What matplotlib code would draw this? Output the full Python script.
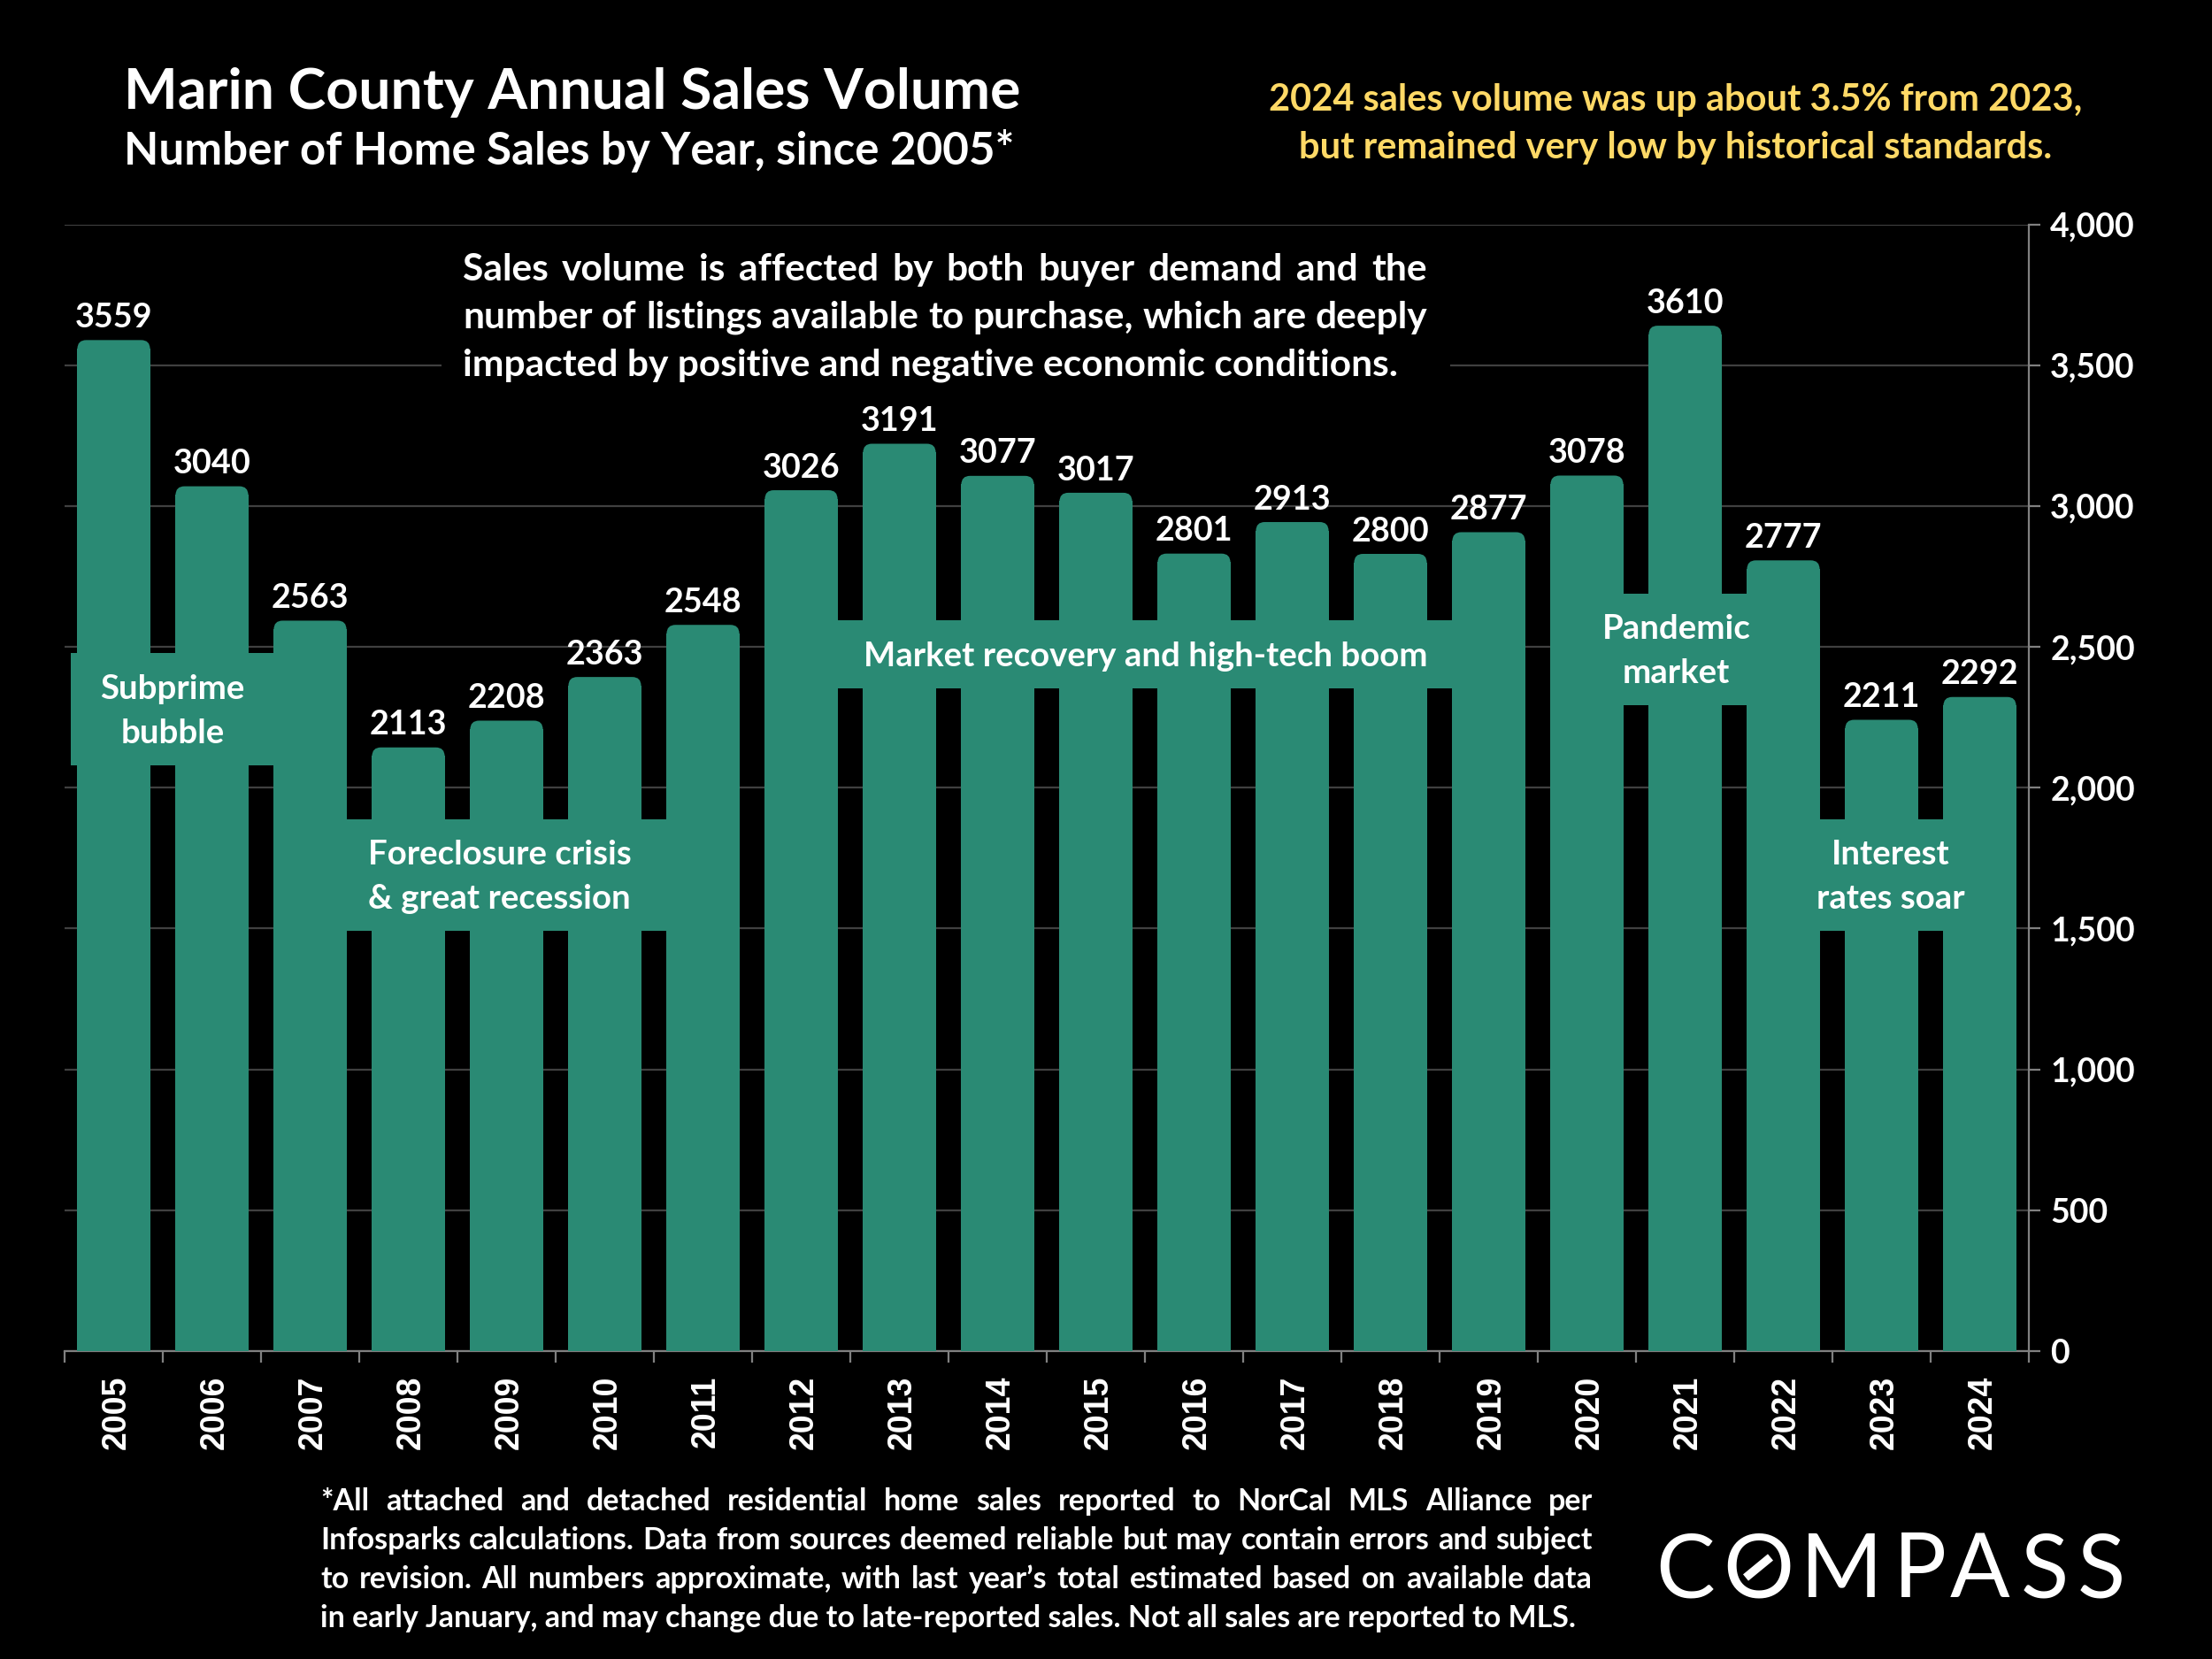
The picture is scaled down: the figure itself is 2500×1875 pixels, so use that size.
import matplotlib
matplotlib.use("Agg")
import matplotlib.pyplot as plt
from matplotlib.patches import FancyBboxPatch, Rectangle
from matplotlib.lines import Line2D
from matplotlib.transforms import ScaledTranslation

years = [2005, 2006, 2007, 2008, 2009, 2010, 2011, 2012, 2013, 2014,
         2015, 2016, 2017, 2018, 2019, 2020, 2021, 2022, 2023, 2024]
sales = [3559, 3040, 2563, 2113, 2208, 2363, 2548, 3026, 3191, 3077,
         3017, 2801, 2913, 2800, 2877, 3078, 3610, 2777, 2211, 2292]
y_ticks = [0, 500, 1000, 1500, 2000, 2500, 3000, 3500, 4000]

band_labels = ["Subprime\nbubble", "Foreclosure crisis\n& great recession",
               "Market recovery and high-tech boom", "Pandemic\nmarket",
               "Interest\nrates soar"]
band_x = [(-0.44, 1.64), (2.22, 5.64), (7.37, 13.64), (15.16, 16.66), (17.37, 18.81)]
band_y = [(2078, 2478), (1492, 1887), (2353, 2593), (2293, 2688), (1492, 1887)]

note_lines = ["Sales volume is affected by both buyer demand and the",
              "number of listings available to purchase, which are deeply",
              "impacted by positive and negative economic conditions."]
foot_lines = ["*All attached and detached residential home sales reported to NorCal MLS Alliance per",
              "Infosparks calculations. Data from sources deemed reliable but may contain errors and subject",
              "to revision. All numbers approximate, with last year\u2019s total estimated based on available data",
              "in early January, and may change due to late-reported sales. Not all sales are reported to MLS."]

W, H = 2500, 1875
GREEN = "#2A8A74"
GOLD = "#FFD966"
GREY = "#808080"
plt.rcParams['font.family'] = ['Lato', 'DejaVu Sans']

fig = plt.figure(figsize=(12.5, 9.375), dpi=200, facecolor="black")
ax = fig.add_axes([73 / W, 1 - 1527 / H, (2293 - 73) / W, (1527 - 253.5) / H], facecolor="black")


def fx(x):
    return x / W


def fy(y):
    return 1 - y / H


def put(x, y, s, size, color="white", weight="bold", ha="left", **kw):
    return fig.text(fx(x), fy(y), s, fontsize=size, color=color, fontweight=weight,
                    ha=ha, va="baseline", **kw)


def justify(line, x0, x1, y, size, zorder=6):
    # spread the words so the line fills x0..x1
    words = line.split(" ")
    rend = fig.canvas.get_renderer()
    items = [put(x0, y, w, size, zorder=zorder) for w in words]
    widths = [t.get_window_extent(rend).width for t in items]
    gap = (x1 - x0 - sum(widths)) / (len(words) - 1)
    x = x0
    for t, w in zip(items, widths):
        t.set_x(fx(x))
        x += w + gap


ax.set_xlim(-0.5, len(years) - 0.5)
ax.set_ylim(0, 4000)
ax.set_axisbelow(True)
ax.grid(axis="y", color="#404040", lw=0.8)
ax.grid(axis="x", visible=False)

xs = list(range(len(years)))
bar_w = 0.74
cap = 30  # rounded tops sit a little above the value in the original
ax.bar(xs, sales, width=bar_w, color=GREEN, zorder=3)
for x, v in zip(xs, sales):
    ax.add_patch(FancyBboxPatch((x - bar_w / 2, v - 200), bar_w, 200 + cap,
                                boxstyle="round,pad=0,rounding_size=0.09",
                                mutation_aspect=349, fc=GREEN, ec="none", zorder=3))
    ax.text(x, v + cap + 45, str(v), ha="center", va="baseline", color="white",
            fontsize=13.6, fontweight="bold", zorder=6)

for label, (x0, x1), (y0, y1) in zip(band_labels, band_x, band_y):
    ax.add_patch(Rectangle((x0, y0), x1 - x0, y1 - y0, fc=GREEN, ec="none", zorder=4))
    ax.text((x0 + x1) / 2, (y0 + y1) / 2 - 7, label, ha="center", va="center", color="white",
            fontsize=13.8, fontweight="bold", linespacing=1.58, zorder=6)

for side in ["top", "left"]:
    ax.spines[side].set_visible(False)
for side in ["right", "bottom"]:
    ax.spines[side].set_color(GREY)
    ax.spines[side].set_linewidth(0.8)

ax.yaxis.tick_right()
ax.set_yticks(y_ticks)
ax.set_yticklabels([f"{t:,}" for t in y_ticks], color="white", fontsize=13.5, fontweight="bold")
ax.tick_params(axis="y", color=GREY, length=4.7, width=0.8, pad=4)
ax.set_xticks(xs)
ax.set_xticklabels(years, rotation=90, color="white", fontsize=13.5, fontweight="bold",
                   family=["Liberation Sans"])
ax.set_xticks([i - 0.5 for i in range(len(years) + 1)], minor=True)
ax.tick_params(axis="x", which="major", length=0, pad=10)
ax.tick_params(axis="x", which="minor", color=GREY, length=4.7, width=0.8)
# rotated labels came out a bit left of the bar centres
nudge = ScaledTranslation(3.5 / 200, 0, fig.dpi_scale_trans)
for lab in ax.get_xticklabels():
    lab.set_transform(lab.get_transform() + nudge)

# black box behind the note breaks the 3,500 gridline
fig.add_artist(Rectangle((fx(499), fy(443)), fx(1639 - 499), 170 / H, fc="black", ec="none",
                         transform=fig.transFigure, zorder=5))

put(140, 123, "Marin County Annual Sales Volume", 23.2)
put(140, 186, "Number of Home Sales by Year, since 2005*", 18.4)
put(1894, 125, "2024 sales volume was up about 3.5% from 2023,", 15, color=GOLD, ha="center")
put(1894, 179, "but remained very low by historical standards.", 15, color=GOLD, ha="center")

justify(note_lines[0], 523, 1613, 317, 15.3)
justify(note_lines[1], 523, 1613, 371, 15.3)
put(523, 425, note_lines[2], 15.3, zorder=6)

justify(foot_lines[0], 362, 1800, 1707, 12.25)
justify(foot_lines[1], 362, 1800, 1751, 12.25)
justify(foot_lines[2], 362, 1800, 1795, 12.25)
put(362, 1839, foot_lines[3], 12.25)

# logo letters, spaced by hand
logo = list("COMPASS")
logo_x = [1905, 1987, 2081, 2170, 2238, 2311, 2375]
for ch, x in zip(logo, logo_x):
    put(x, 1805, ch, 36, weight="normal", ha="center")
fig.add_artist(Line2D([fx(1973), fx(2001)], [fy(1783), fy(1760)], color="white", lw=3.4,
                      solid_capstyle="butt", transform=fig.transFigure))

fig.savefig("out.png", dpi=200, facecolor="black")
